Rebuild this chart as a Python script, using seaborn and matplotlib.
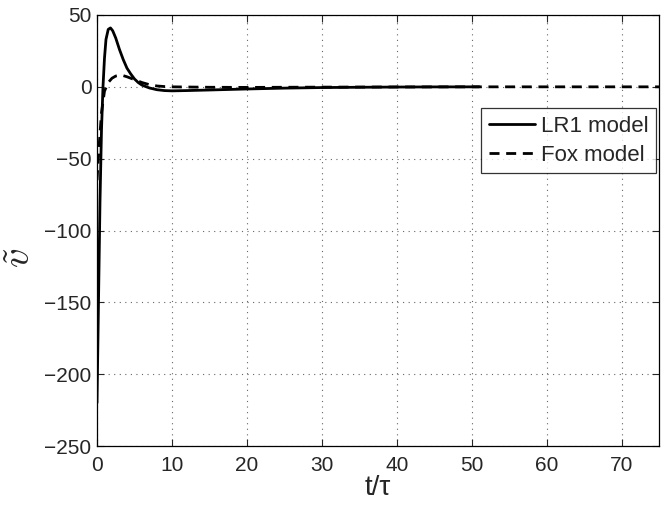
import numpy as np
import pandas as pd
import seaborn as sns
import matplotlib
matplotlib.use("Agg")
import matplotlib.pyplot as plt

lr1_t = [0, 0.2, 0.4, 0.6, 0.8, 1.0, 1.2, 1.5, 1.8, 2.1, 2.5, 3.0, 3.5, 4.0, 4.5,
         5.0, 5.5, 6.0, 7.0, 8.0, 9.0, 10.0, 12.0, 15.0, 20.0, 25.0, 30.0, 35.0,
         40.0, 45.0, 51.0]
lr1_v = [-220, -150, -80, -30, 0, 20, 33, 40, 41, 39, 34, 26, 19, 13, 9,
         5.5, 3, 1.2, -0.8, -2, -2.6, -2.8, -2.6, -2.2, -1.5, -0.9, -0.5, -0.3,
         -0.15, -0.05, 0]

fox_t = [0, 0.3, 0.6, 1.0, 1.5, 2.0, 2.5, 3.0, 3.5, 4.0, 5.0, 6.0, 7.0, 8.0,
         9.0, 10.0, 15.0, 20.0, 30.0, 40.0, 50.0, 75.0]
fox_v = [-65, -40, -18, -3, 3, 6, 7.5, 8, 7.8, 7, 5, 3, 1.5, 0.6,
         0.2, 0, -0.3, -0.4, -0.2, -0.1, 0, 0]

x_ticks = [0, 10, 20, 30, 40, 50, 60, 70]
y_ticks = [-250, -200, -150, -100, -50, 0, 50]

sns.set_style("white")
plt.rcParams['font.family'] = ['Liberation Sans', 'DejaVu Sans']
plt.rcParams['axes.unicode_minus'] = True
plt.rcParams['mathtext.fontset'] = 'cm'

df = pd.concat([
    pd.DataFrame({"t": lr1_t, "v": lr1_v, "model": "LR1 model"}),
    pd.DataFrame({"t": fox_t, "v": fox_v, "model": "Fox model"}),
])

fig = plt.figure(figsize=(6.68, 5.05), dpi=100)
ax = fig.add_axes([0.1452, 0.1168, 0.8413, 0.8535])

sns.lineplot(data=df, x="t", y="v", style="model", ax=ax, color="black",
             linewidth=2.0, sort=False, estimator=None,
             dashes={"LR1 model": "", "Fox model": (3.6, 2.4)})

ax.set_xlim(0, 75)
ax.set_ylim(-250, 50)
ax.set_xticks(x_ticks)
ax.set_yticks(y_ticks)
ax.set_yticklabels([str(v).replace('-', '\u2212') for v in y_ticks])
ax.tick_params(direction='in', bottom=True, left=True, top=True, right=True,
               labelsize=15, length=5, width=0.8)
ax.tick_params(axis='x', pad=7.5)
ax.tick_params(axis='y', pad=4)
ax.grid(True, linestyle=(0, (1, 4)), color='#666666', linewidth=0.8)
for s in ax.spines.values():
    s.set_linewidth(0.9)
    s.set_color('black')

ax.set_xlabel('t/τ', fontsize=20, labelpad=0)
ax.set_ylabel(r'$\tilde{v}$', fontsize=28)
ax.yaxis.set_label_coords(-0.105, 0.436)

leg = ax.legend(loc='upper right', bbox_to_anchor=(0.995, 0.784), fontsize=16,
                frameon=True, fancybox=False, edgecolor='black',
                handlelength=2.1, borderpad=0.35, labelspacing=0.35, handletextpad=0.25,
                borderaxespad=0)
leg.get_frame().set_linewidth(0.9)

fig.savefig("out.png", dpi=100)
